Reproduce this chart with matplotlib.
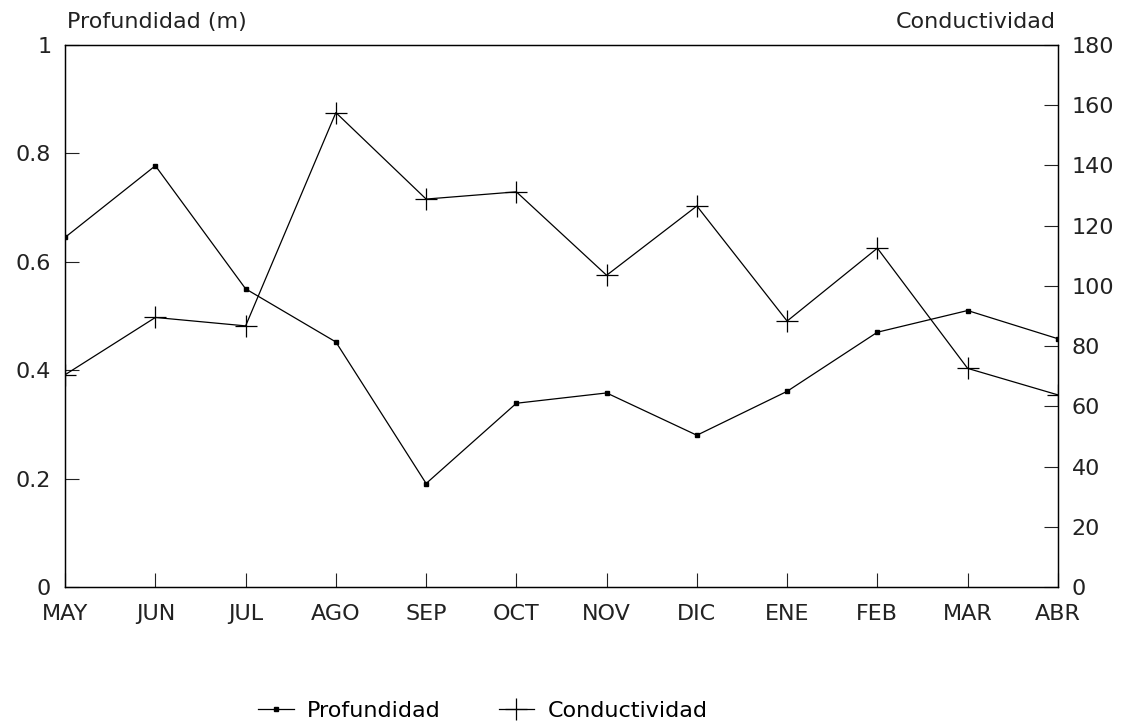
import numpy as np
import matplotlib.pyplot as plt

# meses del ciclo mayo-abril
meses = ['MAY', 'JUN', 'JUL', 'AGO', 'SEP', 'OCT', 'NOV', 'DIC', 'ENE', 'FEB', 'MAR', 'ABR']
profundidad = [0.645, 0.777, 0.550, 0.452, 0.191, 0.339, 0.358, 0.280, 0.361, 0.470, 0.510, 0.458]
conductividad = [70.5, 89.5, 86.7, 157.5, 128.8, 131.2, 103.5, 126.5, 88.3, 112.5, 72.6, 63.8]
ticks_prof = [0, 0.2, 0.4, 0.6, 0.8, 1]
ticks_cond = [0, 20, 40, 60, 80, 100, 120, 140, 160, 180]

plt.rcParams['font.family'] = ['DejaVu Sans']
plt.rcParams['font.size'] = 16

x = np.arange(len(meses))

fig = plt.figure(figsize=(11.23, 7.23), dpi=100)
ax = fig.add_axes([0.058, 0.188, 0.884, 0.750])
ax2 = ax.twinx()

l1, = ax.plot(x, profundidad, color='black', lw=0.9, marker='s', ms=3,
              label='Profundidad')
l2, = ax2.plot(x, conductividad, color='black', lw=0.9, marker='+', ms=16,
               mew=0.9, label='Conductividad')

ax.set_xlim(0, 11)
ax.set_ylim(0, 1)
ax2.set_ylim(0, 180)
ax.set_xticks(x)
ax.set_xticklabels(meses)
ax.set_yticks(ticks_prof)
ax.set_yticklabels(['0', '0.2', '0.4', '0.6', '0.8', '1'])

ax.tick_params(axis='both', direction='in', length=10, width=0.8, colors='#222222')
ax.tick_params(axis='x', pad=12)
ax.tick_params(axis='y', pad=10)
ax2.tick_params(axis='y', direction='in', length=10, width=0.8, pad=10, colors='#222222')
for a in (ax, ax2):
    for s in a.spines.values():
        s.set_linewidth(0.9)

fig.text(0.060, 0.970, 'Profundidad (m)', ha='left', va='center', fontsize=16, color='#222222')
fig.text(0.940, 0.970, 'Conductividad', ha='right', va='center', fontsize=16, color='#222222')

fig.legend([l1, l2], ['Profundidad', 'Conductividad'], loc='lower center',
           bbox_to_anchor=(0.43, -0.025), ncol=2, frameon=False, fontsize=16,
           handlelength=1.6, handletextpad=0.6, columnspacing=2.6)

fig.savefig('out.png', dpi=100)
